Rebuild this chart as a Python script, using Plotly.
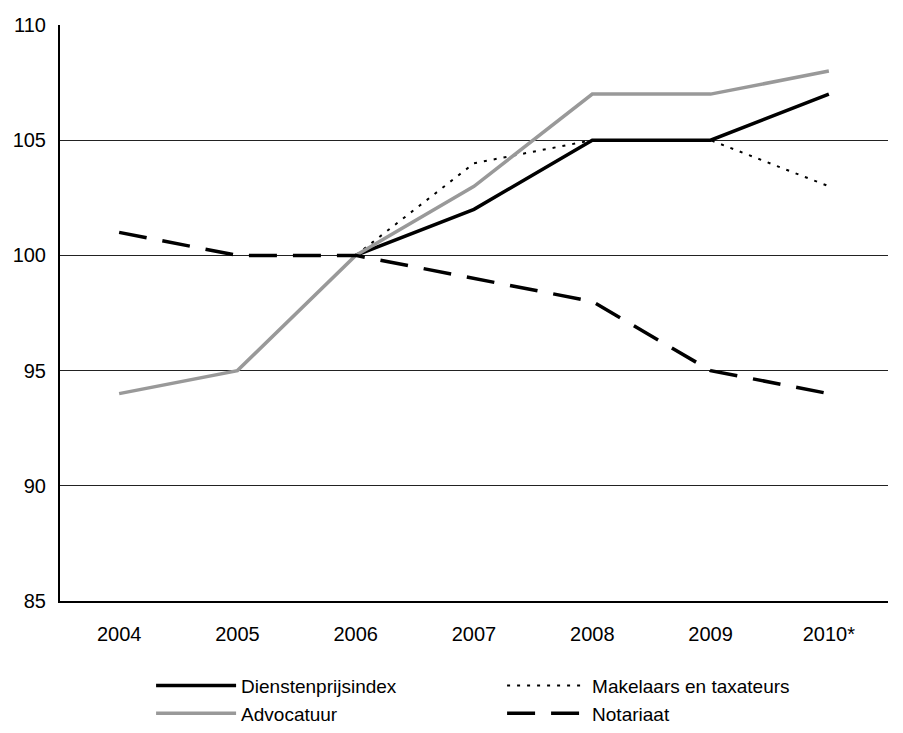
import plotly.graph_objects as go

years = ["2004", "2005", "2006", "2007", "2008", "2009", "2010*"]
dienstenprijsindex = [None, None, 100, 102, 105, 105, 107]
makelaars = [None, None, 100, 104, 105, 105, 103]
advocatuur = [94, 95, 100, 103, 107, 107, 108]
notariaat = [101, 100, 100, 99, 98, 95, 94]
y_ticks = [85, 90, 95, 100, 105, 110]

fig = go.Figure()
fig.add_trace(go.Scatter(
    x=years, y=dienstenprijsindex, mode="lines", name="Dienstenprijsindex",
    line=dict(color="#000000", width=3.5),
))
fig.add_trace(go.Scatter(
    x=years, y=makelaars, mode="lines", name="Makelaars en taxateurs",
    line=dict(color="#000000", width=2, dash="3px,7px"),
))
fig.add_trace(go.Scatter(
    x=years, y=advocatuur, mode="lines", name="Advocatuur",
    line=dict(color="#999999", width=3.5),
))
fig.add_trace(go.Scatter(
    x=years, y=notariaat, mode="lines", name="Notariaat",
    line=dict(color="#000000", width=3.5, dash="28px,16px"),
))

fig.update_layout(
    width=887, height=717,
    paper_bgcolor="#ffffff", plot_bgcolor="#ffffff",
    margin=dict(l=52, r=7, t=17, b=124, autoexpand=False),
    font=dict(family="Liberation Sans, Arial, sans-serif", size=20, color="#000000"),
    legend=dict(
        orientation="h", x=0.11, xanchor="left", y=-0.114, yanchor="top",
        entrywidth=256, entrywidthmode="pixels", traceorder="normal",
        font=dict(size=19), tracegroupgap=0, itemwidth=80,
    ),
    showlegend=True,
)
fig.update_xaxes(
    type="category", range=[-0.5, 6.5], showgrid=False, automargin=False,
    showline=True, linecolor="#000000", linewidth=2, ticks="",
    ticklabelstandoff=14, tickfont=dict(size=20),
)
fig.update_yaxes(
    range=[85, 110], tickvals=y_ticks, showgrid=True, automargin=False,
    gridcolor="#222222", gridwidth=1, zeroline=False,
    showline=True, linecolor="#000000", linewidth=2, ticks="",
    ticklabelstandoff=8, tickfont=dict(size=20),
)

fig.write_html("out.html")
